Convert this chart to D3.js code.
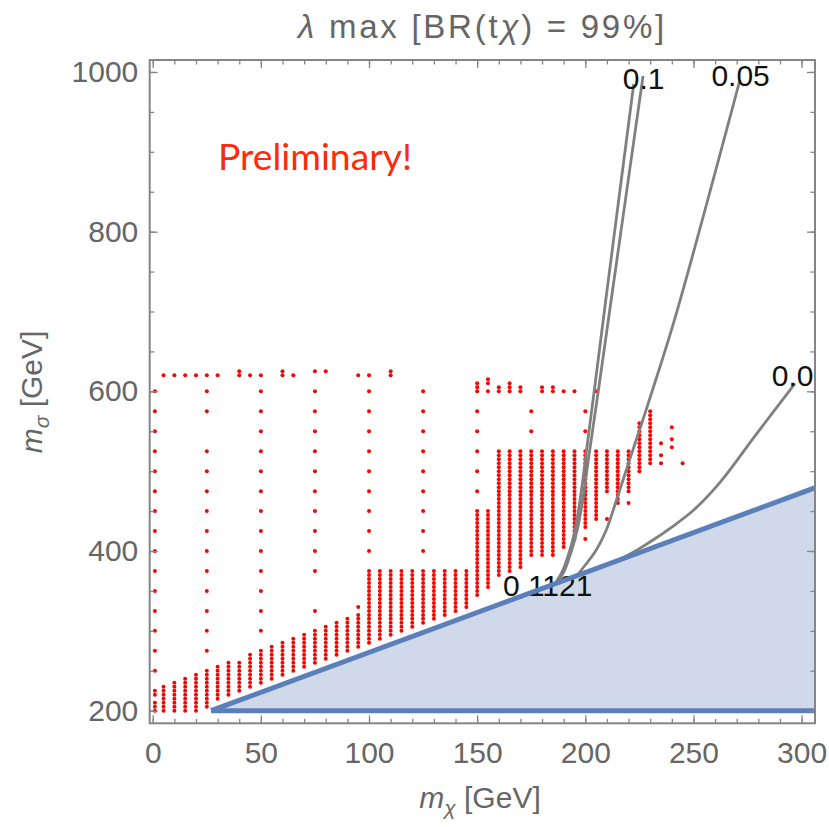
<!DOCTYPE html>
<html>
<head>
<meta charset="utf-8">
<script src="https://cdn.jsdelivr.net/npm/d3@7"></script>
<style>
  body { margin: 0; background: #fff; }
  svg { display: block; }
</style>
</head>
<body>
<svg id="chart" width="829" height="827"></svg>
<script>
// ---- data -------------------------------------------------------------
const xTicksMajor = [0, 50, 100, 150, 200, 250, 300];
const yTicksMajor = [200, 400, 600, 800, 1000];

// scan grid spacing in m_sigma for the dense runs (GeV)
const scanStep = 5;

// dense runs of allowed scan points: [m_chi, m_sigma low, m_sigma high]
const denseRuns = [
  [1, 200, 210], [1, 220, 225],
  [5, 200, 230], [10, 200, 235], [15, 200, 240], [20, 200, 245],
  [25, 205, 250], [30, 215, 255], [35, 220, 260], [40, 225, 260],
  [45, 230, 270], [50, 235, 275], [55, 240, 280], [60, 245, 285],
  [65, 250, 290], [70, 255, 295], [75, 260, 300], [80, 265, 305],
  [85, 270, 310], [90, 275, 315], [95, 280, 320],
  [100, 285, 375], [105, 290, 375], [110, 295, 375], [115, 300, 375],
  [120, 305, 375], [125, 310, 375], [130, 315, 375], [135, 320, 375],
  [140, 325, 375], [145, 330, 375],
  [150, 345, 450], [155, 355, 450],
  [160, 370, 525], [165, 375, 525], [170, 380, 525], [175, 395, 525],
  [180, 395, 525], [185, 395, 525], [190, 405, 525], [195, 415, 525],
  [200, 430, 525], [205, 440, 525], [210, 475, 525], [215, 460, 525],
  [220, 475, 525], [225, 500, 560], [230, 510, 575]
];

// isolated scan points: [m_chi, [m_sigma values]]
const sparseCols = [
  [1,   [250, 275, 300, 325, 350, 375, 400, 425, 450, 475, 500, 525, 550, 575, 600]],
  [25,  [275, 300, 325, 350, 375, 400, 425, 450, 475, 500, 525, 575, 600]],
  [50,  [300, 325, 350, 375, 400, 425, 450, 475, 500, 525, 550, 575, 600]],
  [75,  [325, 375, 400, 425, 450, 475, 500, 525, 550, 575, 600]],
  [95,  [330]],
  [100, [400, 425, 450, 475, 500, 525, 550, 575, 600]],
  [125, [400, 425, 450, 475, 500, 525, 550, 575, 600]],
  [150, [475, 500, 525, 550, 575, 600, 605, 610]],
  [155, [600, 610, 615]],
  [160, [600, 605]],
  [165, [600, 605, 610]],
  [170, [600, 605]],
  [175, [550, 575]],
  [180, [600, 605]],
  [185, [600, 605]],
  [190, [600]],
  [195, [600]],
  [200, [415, 550, 575]],
  [205, [600]],
  [210, [440]],
  [220, [460]],
  [235, [510, 520, 535]],
  [240, [530, 540, 555]],
  [245, [510]]
];

// top row of the scan
const row620 = [5, 10, 15, 20, 25, 30, 40, 45, 50, 60, 65, 95, 100, 110];
const row625 = [40, 60, 75, 80, 110];

// kinematic boundary m_sigma = m_chi + m_t, above m_sigma = 200
const topMass = 173;
const sigmaFloor = 200;

// contours of lambda max
const contourA = [[186, 359], [189.5, 375], [192.5, 398], [195.2, 425], [197.6, 464],
                  [201.6, 548], [204.2, 602], [209.5, 715], [222.4, 985]];
const contourB = [[186.5, 358], [190.3, 375], [193.6, 400], [196.4, 428], [198.8, 464],
                  [201.6, 518], [203.2, 548], [206.1, 602], [212, 715], [226.7, 995]];
const contourC = [[196, 369], [200, 382.5], [205, 401], [209.5, 425], [214.8, 467],
                  [220.2, 512], [226.1, 560], [231, 601], [241.5, 692], [271.5, 990]];
const contourD = [[215, 388], [225, 403], [232, 415], [240, 430], [250, 451],
                  [262, 485], [279, 546], [297, 610]];
const contours = [contourA, contourB, contourC, contourD];

// contour labels: text and anchor point in (m_chi, m_sigma)
const contourLabelText = ["0.1", "0.05", "0.01", "0 1121"];
const contourLabelAt = [[227, 992], [271.8, 996.5], [286.2, 620], [161.9, 357.5]];
const contourLabelAnchor = ["middle", "middle", "start", "start"];

// ---- layout -----------------------------------------------------------
const W = 829, H = 827;
const plot = { left: 149.7, right: 815, top: 60, bottom: 723.3 };
const FONT = "'Liberation Sans', Arial, Helvetica, sans-serif";
const GRAY_TEXT = "#666666";
const FRAME = "#858585";

const svg = d3.select("#chart");
svg.append("rect").attr("width", W).attr("height", H).attr("fill", "#fff");

const x = d3.scaleLinear().domain([-1.4, 306.2]).range([plot.left, plot.right]);
const y = d3.scaleLinear().domain([184.2, 1015]).range([plot.bottom, plot.top]);

svg.append("defs").append("clipPath").attr("id", "plotClip")
  .append("rect")
  .attr("x", plot.left).attr("y", plot.top)
  .attr("width", plot.right - plot.left).attr("height", plot.bottom - plot.top);

const g = svg.append("g").attr("clip-path", "url(#plotClip)");
const line = d3.line().x(d => x(d[0])).y(d => y(d[1]));

// excluded region below the kinematic threshold
const xStart = sigmaFloor - topMass;
const xFar = 330;
const region = [[xStart, sigmaFloor], [xFar, xFar + topMass], [xFar, sigmaFloor]];
g.append("path")
  .attr("d", line(region) + "Z")
  .attr("fill", "#cfd9e9");

// scan points
const points = [];
denseRuns.forEach(([mx, lo, hi]) => {
  for (let s = lo; s <= hi; s += scanStep) points.push([mx, s]);
});
sparseCols.forEach(([mx, list]) => list.forEach(s => points.push([mx, s])));
row620.forEach(mx => points.push([mx, 620]));
row625.forEach(mx => points.push([mx, 625]));

g.append("g").selectAll("circle").data(points).join("circle")
  .attr("cx", d => x(d[0]))
  .attr("cy", d => y(d[1]))
  .attr("r", 2)
  .attr("fill", "#ff0000");

// contour lines
const curve = d3.line().x(d => x(d[0])).y(d => y(d[1])).curve(d3.curveCatmullRom.alpha(0.5));
g.append("g").selectAll("path").data(contours).join("path")
  .attr("d", curve)
  .attr("fill", "none")
  .attr("stroke", "#808080")
  .attr("stroke-width", 2.8);

// contour labels
g.append("g").selectAll("text").data(contourLabelText).join("text")
  .attr("x", (d, i) => x(contourLabelAt[i][0]))
  .attr("y", (d, i) => y(contourLabelAt[i][1]))
  .attr("dy", "0.36em")
  .attr("text-anchor", (d, i) => contourLabelAnchor[i])
  .attr("font-family", FONT)
  .attr("font-size", 30)
  .attr("fill", "#111")
  .text(d => d);

// kinematic boundary lines
g.append("path")
  .attr("d", line([[xStart, sigmaFloor], [xFar, xFar + topMass]]))
  .attr("stroke", "#5b7fb8").attr("stroke-width", 5).attr("fill", "none");
g.append("path")
  .attr("d", line([[xStart, sigmaFloor], [xFar, sigmaFloor]]))
  .attr("stroke", "#5b7fb8").attr("stroke-width", 5).attr("fill", "none");

// ---- frame and axes ---------------------------------------------------
const xMinor = d3.range(0, 301, 10);
const yMinor = d3.range(200, 1001, 50);
const fmt = d3.format("d");

function styleAxis(sel) {
  sel.select(".domain").remove();
  sel.selectAll(".tick line").attr("stroke", FRAME).attr("stroke-width", 1.3);
  sel.selectAll(".tick text")
    .attr("font-family", FONT).attr("font-size", 30).attr("fill", GRAY_TEXT);
}

const axes = svg.append("g");
// bottom
axes.append("g").attr("transform", `translate(0,${plot.bottom})`)
  .call(d3.axisBottom(x).tickValues(xMinor).tickSize(-4.5).tickSizeOuter(0).tickFormat(""))
  .call(styleAxis);
axes.append("g").attr("transform", `translate(0,${plot.bottom})`)
  .call(d3.axisBottom(x).tickValues(xTicksMajor).tickSize(-8).tickSizeOuter(0).tickPadding(18.5).tickFormat(fmt))
  .call(styleAxis);
// top
axes.append("g").attr("transform", `translate(0,${plot.top})`)
  .call(d3.axisTop(x).tickValues(xMinor).tickSize(-4.5).tickSizeOuter(0).tickFormat(""))
  .call(styleAxis);
axes.append("g").attr("transform", `translate(0,${plot.top})`)
  .call(d3.axisTop(x).tickValues(xTicksMajor).tickSize(-8).tickSizeOuter(0).tickFormat(""))
  .call(styleAxis);
// left
axes.append("g").attr("transform", `translate(${plot.left},0)`)
  .call(d3.axisLeft(y).tickValues(yMinor).tickSize(-4.5).tickSizeOuter(0).tickFormat(""))
  .call(styleAxis);
axes.append("g").attr("transform", `translate(${plot.left},0)`)
  .call(d3.axisLeft(y).tickValues(yTicksMajor).tickSize(-8).tickSizeOuter(0).tickPadding(11.4).tickFormat(fmt))
  .call(styleAxis);
// right
axes.append("g").attr("transform", `translate(${plot.right},0)`)
  .call(d3.axisRight(y).tickValues(yMinor).tickSize(-4.5).tickSizeOuter(0).tickFormat(""))
  .call(styleAxis);
axes.append("g").attr("transform", `translate(${plot.right},0)`)
  .call(d3.axisRight(y).tickValues(yTicksMajor).tickSize(-8).tickSizeOuter(0).tickFormat(""))
  .call(styleAxis);

svg.append("rect")
  .attr("x", plot.left).attr("y", plot.top)
  .attr("width", plot.right - plot.left).attr("height", plot.bottom - plot.top)
  .attr("fill", "none").attr("stroke", FRAME).attr("stroke-width", 2);

// ---- titles -----------------------------------------------------------
const title = svg.append("text")
  .attr("x", 482.5).attr("y", 38)
  .attr("text-anchor", "middle")
  .attr("font-family", FONT).attr("font-size", 33).attr("fill", GRAY_TEXT);
title.append("tspan").attr("font-style", "italic").text("λ");
title.append("tspan").text(" max [BR(t");
title.append("tspan").attr("font-style", "italic").text("χ");
title.append("tspan").text(") = 99%]");
{
  const natural = title.node().getComputedTextLength();
  const nChars = "λ max [BR(tχ) = 99%]".length;
  title.attr("letter-spacing", Math.max(0, (369 - natural) / nChars).toFixed(2));
}

// y axis label
const yLab = svg.append("text")
  .attr("transform", "translate(42,392) rotate(-90)")
  .attr("text-anchor", "middle")
  .attr("font-family", FONT).attr("font-size", 30).attr("fill", GRAY_TEXT);
yLab.append("tspan").attr("font-style", "italic").text("m");
yLab.append("tspan").attr("font-style", "italic").attr("font-size", 21).attr("dy", 7).text("σ");
yLab.append("tspan").attr("dy", -7).text(" [GeV]");

// x axis label
const xLab = svg.append("text")
  .attr("x", 480).attr("y", 808)
  .attr("text-anchor", "middle")
  .attr("font-family", FONT).attr("font-size", 30).attr("fill", GRAY_TEXT);
xLab.append("tspan").attr("font-style", "italic").text("m");
xLab.append("tspan").attr("font-style", "italic").attr("font-size", 21).attr("dy", 7).text("χ");
xLab.append("tspan").attr("dy", -7).text(" [GeV]");

// watermark
svg.append("text")
  .attr("x", 218).attr("y", 170)
  .attr("font-family", "Lato, 'Open Sans', sans-serif")
  .attr("font-size", 37)
  .attr("fill", "#ff2a0a")
  .attr("textLength", 194)
  .attr("lengthAdjust", "spacingAndGlyphs")
  .text("Preliminary!");
</script>
</body>
</html>
